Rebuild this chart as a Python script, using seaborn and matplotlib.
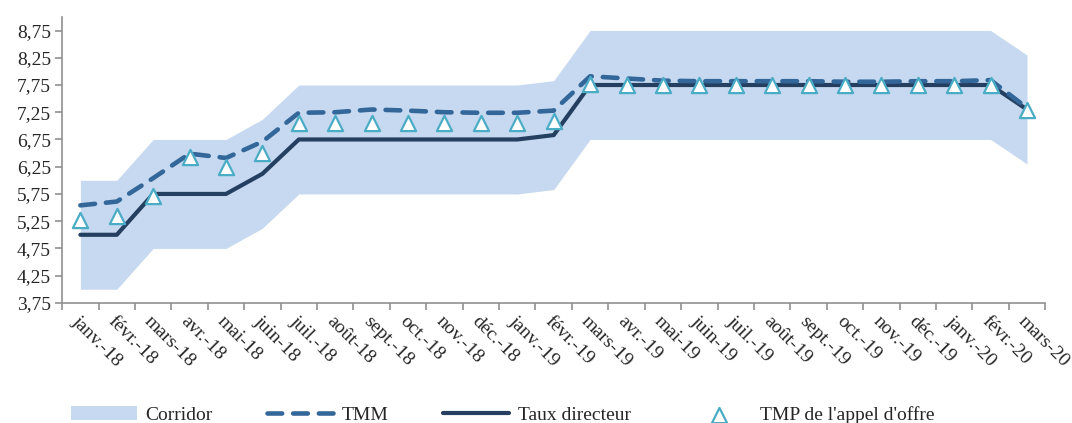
import numpy as np
import pandas as pd
import matplotlib
matplotlib.use("Agg")
import matplotlib.pyplot as plt
import seaborn as sns
from matplotlib.ticker import FuncFormatter, FixedLocator

# months on the x axis
months = ["janv.-18", "févr.-18", "mars-18", "avr.-18", "mai-18", "juin-18",
          "juil.-18", "août-18", "sept.-18", "oct.-18", "nov.-18", "déc.-18",
          "janv.-19", "févr.-19", "mars-19", "avr.-19", "mai-19", "juin-19",
          "juil.-19", "août-19", "sept.-19", "oct.-19", "nov.-19", "déc.-19",
          "janv.-20", "févr.-20", "mars-20"]

# policy rate
taux_directeur = [5.00, 5.00, 5.75, 5.75, 5.75, 6.12, 6.75, 6.75, 6.75, 6.75,
                  6.75, 6.75, 6.75, 6.83, 7.75, 7.75, 7.75, 7.75, 7.75, 7.75,
                  7.75, 7.75, 7.75, 7.75, 7.75, 7.75, 7.30]

# corridor bounds
corridor_haut = [6.00, 6.00, 6.75, 6.75, 6.75, 7.12, 7.75, 7.75, 7.75, 7.75,
                 7.75, 7.75, 7.75, 7.83, 8.75, 8.75, 8.75, 8.75, 8.75, 8.75,
                 8.75, 8.75, 8.75, 8.75, 8.75, 8.75, 8.30]
corridor_bas = [4.00, 4.00, 4.75, 4.75, 4.75, 5.12, 5.75, 5.75, 5.75, 5.75,
                5.75, 5.75, 5.75, 5.83, 6.75, 6.75, 6.75, 6.75, 6.75, 6.75,
                6.75, 6.75, 6.75, 6.75, 6.75, 6.75, 6.30]

# money market rate
tmm = [5.54, 5.61, 6.04, 6.49, 6.41, 6.71, 7.24, 7.25, 7.30, 7.28, 7.25, 7.24,
       7.24, 7.28, 7.91, 7.87, 7.83, 7.82, 7.82, 7.82, 7.82, 7.81, 7.81, 7.82,
       7.82, 7.84, 7.33]

# tender weighted average rate
tmp_offre = [5.28, 5.35, 5.72, 6.42, 6.25, 6.50, 7.05, 7.06, 7.05, 7.05, 7.05,
             7.05, 7.05, 7.09, 7.76, 7.75, 7.75, 7.75, 7.75, 7.75, 7.75, 7.75,
             7.75, 7.75, 7.75, 7.75, 7.30]

df = pd.DataFrame({"pos": np.arange(len(months)), "mois": months,
                   "taux": taux_directeur, "haut": corridor_haut,
                   "bas": corridor_bas, "tmm": tmm, "tmp": tmp_offre})

sns.set_style("white")
plt.rcParams["font.family"] = ["Liberation Serif", "DejaVu Serif"]

fig = plt.figure(figsize=(10.72, 4.23), dpi=100)
ax = fig.add_axes([0.058, 0.284, 0.917, 0.676])

c_corr = "#c6d9f0"
c_tmm = "#336699"
c_taux = "#243f60"
c_tmp = "#4bacc6"

ax.fill_between(df["pos"], df["bas"], df["haut"], color=c_corr,
                lw=0, label="Corridor", zorder=1)
sns.lineplot(data=df, x="pos", y="tmm", ax=ax, color=c_tmm, lw=3.3,
             linestyle=(0, (3.2, 2.4)), dash_capstyle="round", label="TMM",
             zorder=3)
sns.lineplot(data=df, x="pos", y="taux", ax=ax, color=c_taux, lw=3,
             label="Taux directeur", zorder=2)
sns.scatterplot(data=df, x="pos", y="tmp", ax=ax, marker="^", s=120,
                facecolor="white", edgecolor=c_tmp, linewidth=1.6,
                label="TMP de l'appel d'offre", zorder=4)

ax.set_xlim(-0.5, len(months) - 0.5)
ax.set_ylim(3.75, 9.0)
ax.set_yticks(np.arange(3.75, 8.76, 0.5))
ax.yaxis.set_major_formatter(FuncFormatter(lambda v, p: f"{v:.2f}".replace(".", ",")))
ax.set_xticks(df["pos"])
ax.set_xticklabels(months, rotation=-45, ha="left", va="top",
                   rotation_mode="anchor", fontsize=14)
ax.xaxis.set_minor_locator(FixedLocator(np.arange(-0.5, len(months), 1)))
ax.tick_params(axis="x", which="major", bottom=True, length=0, pad=7)
ax.tick_params(axis="x", which="minor", bottom=True, length=5,
               color="#909090", width=1.2)
ax.tick_params(axis="y", left=True, length=5, color="#909090", width=1.2,
               labelsize=14, pad=3)
ax.set_xlabel("")
ax.set_ylabel("")
for s in ["top", "right"]:
    ax.spines[s].set_visible(False)
for s in ["left", "bottom"]:
    ax.spines[s].set_color("#909090")
    ax.spines[s].set_linewidth(1.2)

handles, labels = ax.get_legend_handles_labels()
ax.get_legend().remove()
order = ["Corridor", "TMM", "Taux directeur", "TMP de l'appel d'offre"]
hmap = dict(zip(labels, handles))
fig.legend([hmap[k] for k in order], order, loc="center", ncol=4,
           bbox_to_anchor=(0.469, 0.019), frameon=False, fontsize=14,
           handlelength=3.4, columnspacing=2.8, handletextpad=0.45)

fig.savefig("out.png", dpi=100)
